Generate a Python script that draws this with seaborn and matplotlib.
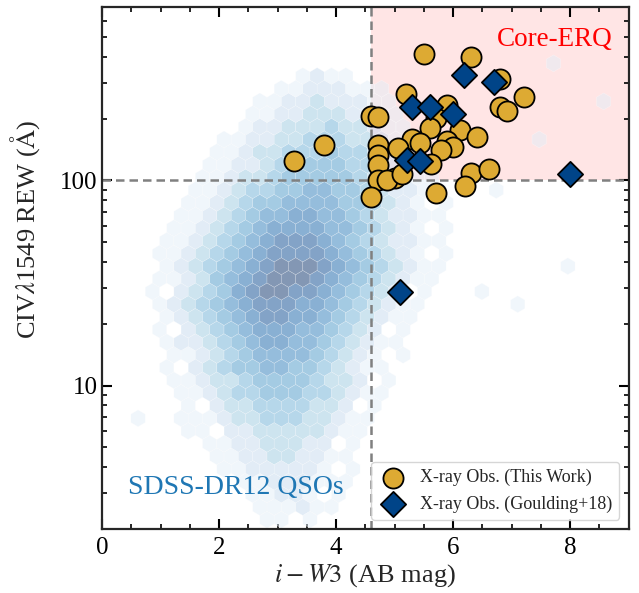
import numpy as np
import pandas as pd
import matplotlib
matplotlib.use("Agg")
import matplotlib.pyplot as plt
import seaborn as sns
from matplotlib.colors import PowerNorm
from matplotlib.ticker import MultipleLocator, LogLocator, NullFormatter, FuncFormatter

# X-ray observed ERQs (this work): i-W3 colour and CIV REW
this_work_iw3 = [5.50, 6.30, 6.80, 5.19, 7.21, 6.81, 6.92, 4.60, 4.71, 5.90,
                 5.71, 5.60, 6.11, 6.41, 5.30, 5.43, 3.79, 3.28, 4.71, 5.06,
                 5.90, 6.00, 5.80, 4.71, 4.71, 5.62, 6.31, 6.61, 5.00, 4.71,
                 4.87, 5.13, 5.71, 6.21, 4.60]
this_work_rew = [413, 398, 311, 264, 256, 229, 218, 206, 205, 233,
                 201, 181, 176, 162, 159, 152, 149, 124, 149, 144,
                 155, 145, 141, 133, 119, 120, 109, 114, 103, 101,
                 101, 107, 87, 94, 83]

# X-ray observed ERQs from Goulding+18
goulding_iw3 = [6.19, 6.70, 5.30, 5.60, 6.00, 5.22, 5.43, 8.00, 5.10]
goulding_rew = [327, 303, 227, 229, 210, 126, 124, 108, 28.5]

# SDSS-DR12 QSO hexbin density: (hex row, first hex column, log-count level per hex)
# level 0 = empty cell, 9 = densest cell
qso_density = [
    (37, 33, "1"),
    (36, 16, "1211"),
    (35, 14, "11222111"),
    (34, 13, "1122322211"), (34, 37, "1"),
    (33, 12, "11223332211"),
    (32, 12, "122333433211"),
    (31, 10, "11223344433211"), (31, 32, "1"),
    (30, 10, "112334445443211"),
    (29, 9, "1122344555443201"),
    (28, 9, "11233455555432211"),
    (27, 8, "112344556655432211"), (27, 29, "1"),
    (26, 8, "1123455666655432101"),
    (25, 7, "1123456677665432211"),
    (24, 7, "11234567777665432101"),
    (23, 6, "11234567888765432211"),
    (22, 6, "112345678888765432101"),
    (21, 6, "12345678999876543211"), (21, 34, "1"),
    (20, 6, "11235678999876543211"),
    (19, 5, "10234578998876543201"), (19, 28, "1"),
    (18, 6, "1234567888776543211"), (18, 31, "1"),
    (17, 6, "123456788776543211"),
    (16, 6, "102345677766543201"),
    (15, 6, "12234567766543211"),
    (14, 7, "11234566665432101"),
    (13, 6, "1023455665543211"),
    (12, 7, "1123345555433201"),
    (11, 7, "112344555443211"),
    (10, 8, "10233444433201"),
    (9, 4, "1"), (9, 7, "11123344433211"),
    (8, 8, "1102233333211"),
    (7, 9, "11223332201"),
    (6, 10, "1122332211"),
    (5, 10, "1122222101"),
    (4, 12, "11222111"),
    (3, 12, "1122101"),
    (2, 13, "111211"),
    (1, 13, "1101"),
]

sns.set_style("ticks")
plt.rcParams.update({
    "font.family": "serif",
    "font.serif": ["Liberation Serif", "DejaVu Serif"],
    "mathtext.fontset": "stix",
    "axes.linewidth": 1.6,
    "xtick.direction": "in",
    "ytick.direction": "in",
    "xtick.top": True,
    "ytick.right": True,
    "xtick.major.size": 7.5,
    "ytick.major.size": 7.5,
    "xtick.minor.size": 3.8,
    "ytick.minor.size": 3.8,
    "xtick.major.width": 1.5,
    "ytick.major.width": 1.5,
    "xtick.minor.width": 1.2,
    "ytick.minor.width": 1.2,
    "xtick.labelsize": 18,
    "ytick.labelsize": 18,
    "xtick.color": "black",
    "ytick.color": "black",
})

fig = plt.figure(figsize=(6.39, 5.93), dpi=100)
ax = fig.add_axes([0.160, 0.108, 0.8236, 0.880])

# hexagon lattice of the QSO density map (x in mag, y in log10 REW)
nx, ny = 40, 23
x_lo, x_hi = -0.49, -0.49 + nx * 0.245
ly_lo = 0.2842
ly_hi = ly_lo + ny * 0.1236
sx = (x_hi - x_lo) / nx
sy = (ly_hi - ly_lo) / ny

hx, hy, hc = [], [], []
for row, col0, levels in qso_density:
    for j, ch in enumerate(levels):
        lev = int(ch)
        if lev == 0:
            continue
        col = col0 + j
        if row % 2 == 0:
            cx = x_lo + col * sx
            cy = ly_lo + (row // 2) * sy
        else:
            cx = x_lo + (col + 0.5) * sx
            cy = ly_lo + (row // 2 + 0.5) * sy
        hx.append(cx)
        hy.append(10 ** cy)
        hc.append(lev)

ax.hexbin(hx, hy, C=hc, gridsize=(nx, ny), extent=(x_lo, x_hi, ly_lo, ly_hi),
          yscale="log", reduce_C_function=np.max, cmap="Blues",
          norm=PowerNorm(gamma=0.8, vmin=0.5, vmax=9),
          alpha=0.5, linewidths=0.3, edgecolors="white", zorder=1)

# Core-ERQ selection region
ax.fill_between([4.6, 9.0], 100, 700, color="red", alpha=0.1, lw=0, zorder=0)
ax.axvline(4.6, color="gray", ls=(0, (3.4, 2.0)), lw=1.8, zorder=2)
ax.axhline(100, color="gray", ls=(0, (3.4, 2.0)), lw=1.8, zorder=2)

sns.scatterplot(x=this_work_iw3, y=this_work_rew, marker="o", s=210,
                color="#DDAA33", edgecolor="black", linewidth=1.3,
                label="X-ray Obs. (This Work)", zorder=3, ax=ax)
sns.scatterplot(x=goulding_iw3, y=goulding_rew, marker="D", s=165,
                color="#004488", edgecolor="black", linewidth=1.3,
                label="X-ray Obs. (Goulding+18)", zorder=4, ax=ax)

ax.set_yscale("log")
ax.set_xlim(0, 9)
ax.set_ylim(2, 700)

ax.xaxis.set_major_locator(MultipleLocator(2))
ax.xaxis.set_minor_locator(MultipleLocator(0.5))
ax.yaxis.set_major_locator(LogLocator(base=10, subs=(1.0,)))
ax.yaxis.set_minor_locator(LogLocator(base=10, subs=np.arange(2, 10)))
ax.yaxis.set_major_formatter(FuncFormatter(lambda v, p: f"{v:g}"))
ax.yaxis.set_minor_formatter(NullFormatter())
ax.tick_params(which="both", top=True, right=True, direction="in")
ax.tick_params(axis="x", which="major", pad=6)

ax.set_xlabel(r"$i-W3$ (AB mag)", fontsize=19, labelpad=2)
ax.set_ylabel(r"CIV$\lambda$1549 REW ($\mathrm{\AA}$)", fontsize=19)
ax.yaxis.set_label_coords(-0.114, 0.575)

ax.text(0.969, 0.937, "Core-ERQ", color="red", fontsize=19.5,
        ha="right", va="center", transform=ax.transAxes)
ax.text(0.049, 0.0785, "SDSS-DR12 QSOs", color="#1f77b4", fontsize=20,
        ha="left", va="center", transform=ax.transAxes)

ax.legend(loc="lower right", fontsize=13, frameon=True,
          handlelength=1.6, handletextpad=0.7)

fig.savefig("out.png", dpi=100)
